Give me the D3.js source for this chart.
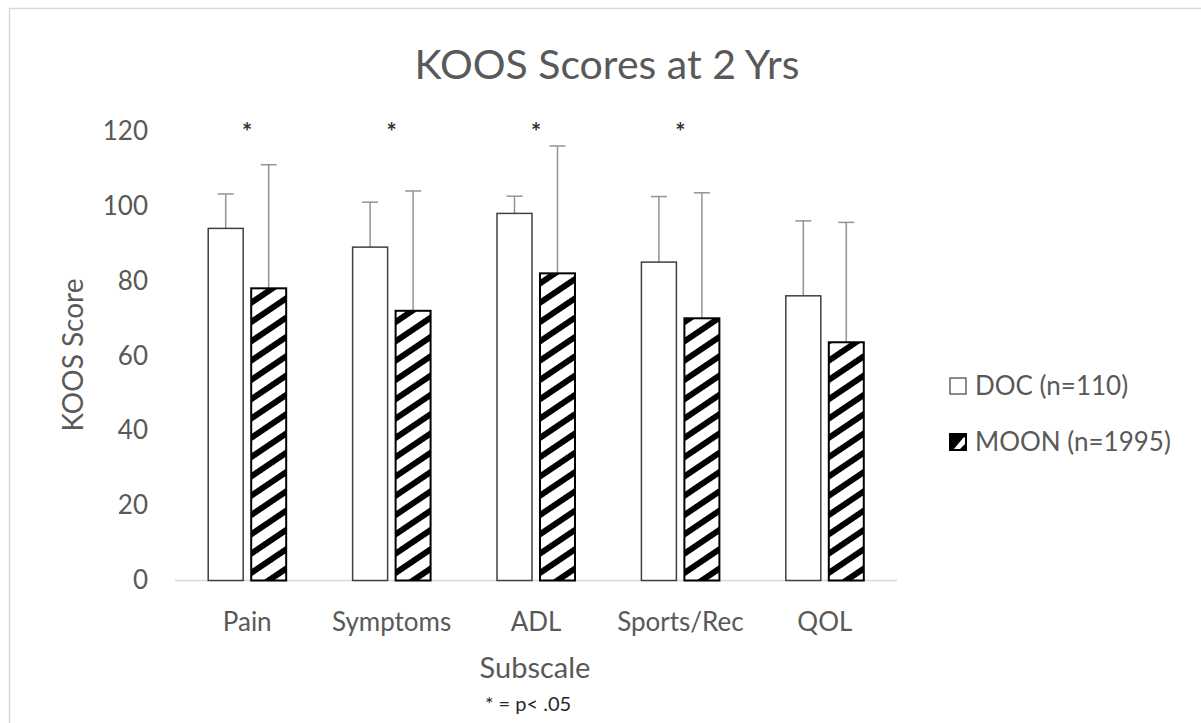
<!DOCTYPE html>
<html>
<head>
<meta charset="utf-8">
<script src="https://cdn.jsdelivr.net/npm/d3@7"></script>
<style>
  body { margin: 0; background: #fff; }
  svg text { font-family: Lato, "Open Sans", sans-serif; }
</style>
</head>
<body>
<svg id="chart" width="1201" height="723"></svg>
<script>
const categories = ["Pain", "Symptoms", "ADL", "Sports/Rec", "QOL"];
const seriesNames = ["DOC (n=110)", "MOON (n=1995)"];
const docMeans = [94, 89, 98, 85, 76];
const docSD = [9.2, 12, 4.6, 17.5, 20];
const moonMeans = [78, 72, 82, 70, 63.6];
const moonSD = [33, 32, 34, 33.5, 32];
const significant = [true, true, true, true, false];
const yTicks = [0, 20, 40, 60, 80, 100, 120];

const svg = d3.select("#chart");
const textColor = "#595959";
const ff = "Lato, 'Open Sans', sans-serif";

// outer frame
svg.append("rect").attr("x", 9.5).attr("y", 8.5).attr("width", 1220).attr("height", 740)
  .attr("fill", "none").attr("stroke", "#d9d9d9").attr("stroke-width", 1.5);

// pattern
const defs = svg.append("defs");
const pat = defs.append("pattern").attr("id", "hatch").attr("patternUnits", "userSpaceOnUse")
  .attr("width", 16).attr("height", 16).attr("patternTransform", "rotate(-34)");
pat.append("rect").attr("width", 16).attr("height", 16).attr("fill", "#fff");
pat.append("rect").attr("width", 16).attr("height", 6).attr("fill", "#000");

const x0 = d3.scaleBand().domain(categories).range([175, 897]).paddingInner(0.46).paddingOuter(0.23);
const x1 = d3.scaleBand().domain(seriesNames).range([0, x0.bandwidth()]).paddingInner(0.186);
const y = d3.scaleLinear().domain([0, 120]).range([580.5, 131]);

// title
svg.append("text").attr("x", 607).attr("y", 79).attr("text-anchor", "middle")
  .attr("font-size", 41).attr("fill", textColor).text("KOOS Scores at 2 Yrs");

// y axis labels (no line)
const yAxis = d3.axisLeft(y).tickValues(yTicks).tickSize(0).tickPadding(0);
const yg = svg.append("g").attr("transform", "translate(148,0)").call(yAxis);
yg.select(".domain").remove();
yg.selectAll("text").attr("font-size", 26).attr("fill", textColor).style("font-family", ff);

// baseline
svg.append("line").attr("x1", 175).attr("x2", 897).attr("y1", y(0)).attr("y2", y(0))
  .attr("stroke", "#d9d9d9").attr("stroke-width", 1.5);

// x axis labels
const xAxis = d3.axisBottom(x0).tickSize(0).tickPadding(0);
const xg = svg.append("g").attr("transform", "translate(0,622)").call(xAxis);
xg.select(".domain").remove();
xg.selectAll("text").attr("font-size", 26).attr("fill", textColor).attr("dy", "0.35em")
  .style("font-family", ff);

// bars
const rows = categories.map((c, i) => ({
  cat: c,
  vals: [
    { s: seriesNames[0], m: docMeans[i], sd: docSD[i] },
    { s: seriesNames[1], m: moonMeans[i], sd: moonSD[i] }
  ]
}));

const groups = svg.append("g").selectAll("g").data(rows).join("g")
  .attr("transform", d => `translate(${x0(d.cat)},0)`);

groups.selectAll("g.err").data(d => d.vals).join("g").attr("class", "err").each(function(d) {
  const g = d3.select(this);
  const cx = x1(d.s) + x1.bandwidth() / 2;
  g.append("line").attr("x1", cx).attr("x2", cx).attr("y1", y(d.m)).attr("y2", y(d.m + d.sd))
    .attr("stroke", "#939393").attr("stroke-width", 1.5);
  g.append("line").attr("x1", cx - 8).attr("x2", cx + 8).attr("y1", y(d.m + d.sd)).attr("y2", y(d.m + d.sd))
    .attr("stroke", "#939393").attr("stroke-width", 1.5);
});

groups.selectAll("rect.bar").data(d => d.vals).join("rect").attr("class", "bar")
  .attr("x", d => x1(d.s))
  .attr("y", d => y(d.m))
  .attr("width", x1.bandwidth())
  .attr("height", d => y(0) - y(d.m))
  .attr("fill", (d, i) => i === 0 ? "#fff" : "url(#hatch)")
  .attr("stroke", (d, i) => i === 0 ? "#404040" : "#000")
  .attr("stroke-width", (d, i) => i === 0 ? 1.5 : 2);

// significance asterisks
svg.append("g").selectAll("text").data(categories.filter((c, i) => significant[i])).join("text")
  .attr("x", d => x0(d) + x0.bandwidth() / 2)
  .attr("y", 141)
  .attr("text-anchor", "middle").attr("font-size", 24).attr("font-weight", "bold").attr("fill", "#333")
  .text("*");

// axis titles
svg.append("text").attr("x", 535).attr("y", 678).attr("text-anchor", "middle")
  .attr("font-size", 29).attr("fill", textColor).text("Subscale");
svg.append("text").attr("transform", "translate(83,355) rotate(-90)").attr("text-anchor", "middle")
  .attr("font-size", 28).attr("fill", textColor).text("KOOS Score");
svg.append("text").attr("x", 528).attr("y", 711).attr("text-anchor", "middle")
  .attr("font-size", 20).attr("fill", "#262626").text("* = p< .05");

// legend
const leg = svg.append("g");
const legY = [386, 442];
seriesNames.forEach((s, i) => {
  const g = leg.append("g").attr("transform", `translate(950,${legY[i]})`);
  if (i === 0) {
    g.append("rect").attr("x", 0).attr("y", -8).attr("width", 16).attr("height", 16)
      .attr("fill", "#fff").attr("stroke", "#404040").attr("stroke-width", 1.2);
  } else {
    g.append("rect").attr("x", 0).attr("y", -8).attr("width", 16).attr("height", 16)
      .attr("fill", "#000");
    g.append("path").attr("d", "M3,8 L14,-5 L15,-4 L15,2 L9,8 Z").attr("fill", "#fff");
    g.append("rect").attr("x", 0).attr("y", -8).attr("width", 16).attr("height", 16)
      .attr("fill", "none").attr("stroke", "#000").attr("stroke-width", 2);
  }
  g.append("text").attr("x", 25).attr("y", 0).attr("dy", "0.35em")
    .attr("font-size", 26).attr("fill", textColor).text(s);
});
</script>
</body>
</html>
